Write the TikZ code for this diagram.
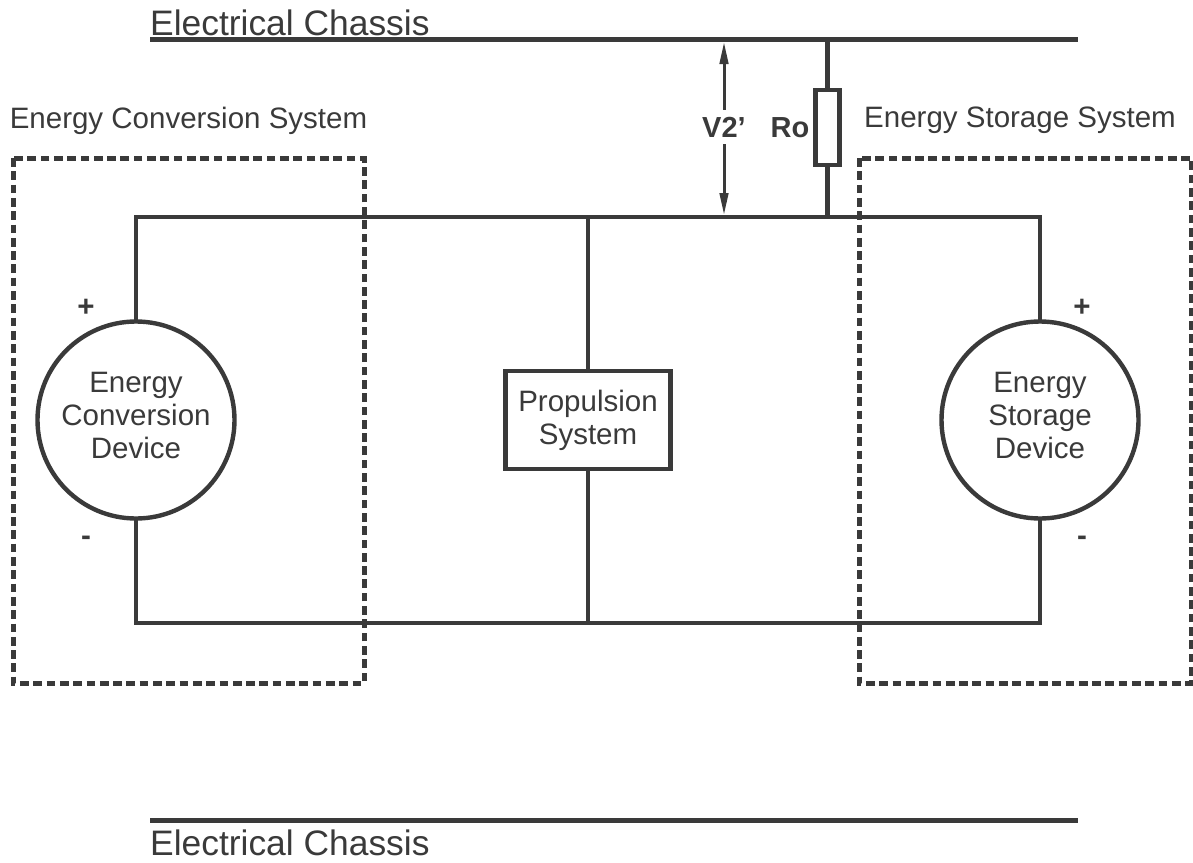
\documentclass[tikz,border=0pt]{standalone}
\usepackage{fontspec}
\setmainfont{Liberation Sans}
\usetikzlibrary{arrows.meta}
\definecolor{ink}{HTML}{3A3A3A}
\tikzset{x=1pt,y=-1pt,
wire/.style={draw=ink,line width=4.3pt},
bar/.style={draw=ink,line width=5pt},
dashbox/.style={draw=ink,line width=5pt,dash pattern=on 8.7pt off 4.6pt},
lbl/.style={text=ink,font=\fontsize{29.5}{33}\selectfont,align=center,inner sep=0pt},
sign/.style={text=ink,font=\bfseries\fontsize{29.5}{33}\selectfont,inner sep=0pt},
blbl/.style={text=ink,font=\bfseries\fontsize{29}{33}\selectfont,inner sep=0pt},
chassis/.style={text=ink,font=\fontsize{35.4}{38}\selectfont,inner sep=0pt,anchor=base west},
dev/.style={circle,draw=ink,line width=4.4pt,minimum size=197pt,inner sep=0pt,fill=white},
}
\begin{document}
\begin{tikzpicture}
\useasboundingbox (0,0) rectangle (1193,862);
\coordinate (tl) at (150,39.5); \coordinate (tr) at (1078,39.5);
\coordinate (bl) at (150,820); \coordinate (br) at (1078,820);
\draw[bar] (tl)--(tr);
\draw[bar] (bl)--(br);
\node[chassis] (c1) at (150,35) {Electrical Chassis};
\node[chassis] (c2) at (150,855) {Electrical Chassis};
\draw[dashbox] (13,158) rectangle (364,683);
\draw[dashbox] (859,158) rectangle (1191,683);
\node[lbl] (t1) at (188.5,120.5) {Energy Conversion System};
\node[lbl] (t2) at (1020,120.5) {Energy Storage System};
\coordinate (a) at (136,217); \coordinate (b) at (1040,217);
\coordinate (c) at (1040,623); \coordinate (d) at (136,623);
\draw[wire] (a)--(b)--(c)--(d)--cycle;
\coordinate (m1) at (588,217); \coordinate (m2) at (588,623);
\draw[wire] (m1)--(m2);
\node[dev] (e1) at (136,420) {};
\node[lbl] (e1t) at (136,415) {Energy\\Conversion\\Device};
\node[dev] (e2) at (1040,420) {};
\node[lbl] (e2t) at (1040,415) {Energy\\Storage\\Device};
\node[draw=ink,line width=4.4pt,fill=white,minimum width=165pt,minimum height=98pt,inner sep=0pt,text=ink,font=\fontsize{29.5}{33}\selectfont,align=center] (p) at (588,420) {Propulsion\\System};
\coordinate (r1) at (827.7,39.5); \coordinate (r2) at (827.7,217);
\draw[draw=ink,line width=5.3pt] (r1)--(r2);
\node[draw=ink,line width=4.5pt,fill=white,minimum width=24pt,minimum height=75pt,inner sep=0pt] (ro) at (827.7,127.5) {};
\node[blbl] (rl) at (790,128) {Ro};
\coordinate (v1) at (724,42); \coordinate (v2) at (724,215);
\draw[draw=ink,line width=3pt,{Stealth[length=22pt,width=8.5pt,inset=0pt]}-{Stealth[length=22pt,width=8.5pt,inset=0pt]}] (v1)--(v2);
\node[blbl,fill=white,inner xsep=1pt,inner ysep=0pt,minimum height=34pt] (vl) at (724,127) {\raisebox{-3pt}{V2’}};
\node[sign] (s1) at (86,308) {+};
\node[sign] (s2) at (86,541) {-};
\node[sign] (s3) at (1082,308) {+};
\node[sign] (s4) at (1082,541) {-};
\end{tikzpicture}
\end{document}
